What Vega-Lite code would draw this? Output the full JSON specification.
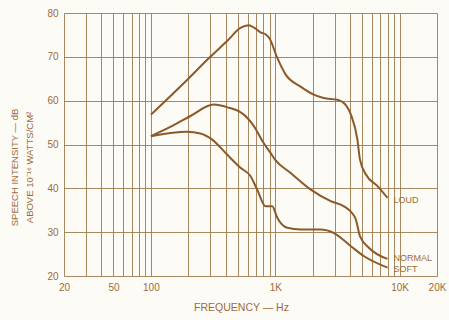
{
  "$schema": "https://vega.github.io/schema/vega-lite/v6.json",
  "width": 373,
  "height": 263,
  "autosize": "none",
  "padding": {"left": 64, "top": 13, "right": 12, "bottom": 44},
  "background": "#fdfbf6",
  "config": {
    "view": {"stroke": null},
    "font": "Liberation Sans",
    "axis": {
      "grid": true,
      "gridColor": "#9f7b50",
      "gridWidth": 1,
      "gridOpacity": 0.9,
      "domain": false,
      "ticks": false,
      "labelColor": "#9c6b3c",
      "titleColor": "#9c6b3c",
      "labelFont": "Liberation Sans",
      "titleFont": "Liberation Sans",
      "labelFontSize": 10,
      "titleFontSize": 10.5,
      "titleFontWeight": "normal"
    }
  },
  "datasets": {
    "curves": [
      {"curve": "LOUD", "freq": 100, "db": 56.8},
      {"curve": "LOUD", "freq": 200, "db": 65},
      {"curve": "LOUD", "freq": 300, "db": 70},
      {"curve": "LOUD", "freq": 410, "db": 73.6},
      {"curve": "LOUD", "freq": 525, "db": 76.6},
      {"curve": "LOUD", "freq": 610, "db": 77.2},
      {"curve": "LOUD", "freq": 680, "db": 76.6},
      {"curve": "LOUD", "freq": 760, "db": 75.6},
      {"curve": "LOUD", "freq": 840, "db": 75.1},
      {"curve": "LOUD", "freq": 900, "db": 74.2},
      {"curve": "LOUD", "freq": 1037, "db": 69.8},
      {"curve": "LOUD", "freq": 1210, "db": 66},
      {"curve": "LOUD", "freq": 1600, "db": 63.2},
      {"curve": "LOUD", "freq": 2000, "db": 61.5},
      {"curve": "LOUD", "freq": 2450, "db": 60.6},
      {"curve": "LOUD", "freq": 3160, "db": 60.2},
      {"curve": "LOUD", "freq": 3700, "db": 59},
      {"curve": "LOUD", "freq": 4060, "db": 56.8},
      {"curve": "LOUD", "freq": 4580, "db": 51.1},
      {"curve": "LOUD", "freq": 4800, "db": 46.6},
      {"curve": "LOUD", "freq": 5350, "db": 43.2},
      {"curve": "LOUD", "freq": 6650, "db": 40.5},
      {"curve": "LOUD", "freq": 8000, "db": 37.8},
      {"curve": "NORMAL", "freq": 100, "db": 51.9},
      {"curve": "NORMAL", "freq": 150, "db": 54.3},
      {"curve": "NORMAL", "freq": 208, "db": 56.5},
      {"curve": "NORMAL", "freq": 320, "db": 59.1},
      {"curve": "NORMAL", "freq": 423, "db": 58.4},
      {"curve": "NORMAL", "freq": 509, "db": 57.6},
      {"curve": "NORMAL", "freq": 600, "db": 56},
      {"curve": "NORMAL", "freq": 673, "db": 54.2},
      {"curve": "NORMAL", "freq": 800, "db": 50.5},
      {"curve": "NORMAL", "freq": 916, "db": 48.1},
      {"curve": "NORMAL", "freq": 1000, "db": 46.5},
      {"curve": "NORMAL", "freq": 1330, "db": 43.5},
      {"curve": "NORMAL", "freq": 1930, "db": 39.7},
      {"curve": "NORMAL", "freq": 2790, "db": 37.1},
      {"curve": "NORMAL", "freq": 3570, "db": 35.9},
      {"curve": "NORMAL", "freq": 4100, "db": 34.5},
      {"curve": "NORMAL", "freq": 4450, "db": 32.9},
      {"curve": "NORMAL", "freq": 4800, "db": 29.1},
      {"curve": "NORMAL", "freq": 5690, "db": 26.4},
      {"curve": "NORMAL", "freq": 8000, "db": 23.9},
      {"curve": "SOFT", "freq": 100, "db": 51.9},
      {"curve": "SOFT", "freq": 150, "db": 52.7},
      {"curve": "SOFT", "freq": 195, "db": 52.9},
      {"curve": "SOFT", "freq": 250, "db": 52.5},
      {"curve": "SOFT", "freq": 311, "db": 51.1},
      {"curve": "SOFT", "freq": 410, "db": 47.7},
      {"curve": "SOFT", "freq": 525, "db": 44.7},
      {"curve": "SOFT", "freq": 632, "db": 42.8},
      {"curve": "SOFT", "freq": 716, "db": 39.7},
      {"curve": "SOFT", "freq": 836, "db": 35.9},
      {"curve": "SOFT", "freq": 946, "db": 35.9},
      {"curve": "SOFT", "freq": 1038, "db": 33.3},
      {"curve": "SOFT", "freq": 1250, "db": 31},
      {"curve": "SOFT", "freq": 1600, "db": 30.6},
      {"curve": "SOFT", "freq": 2310, "db": 30.6},
      {"curve": "SOFT", "freq": 2970, "db": 29.8},
      {"curve": "SOFT", "freq": 4060, "db": 26.8},
      {"curve": "SOFT", "freq": 5190, "db": 24.5},
      {"curve": "SOFT", "freq": 8000, "db": 21.9}
    ],
    "labels": [
      {"curve": "LOUD", "freq": 8000, "db": 37.4},
      {"curve": "NORMAL", "freq": 8000, "db": 24.0},
      {"curve": "SOFT", "freq": 8000, "db": 21.6}
    ]
  },
  "layer": [
    {
      "data": {"name": "curves"},
      "mark": {"type": "line", "interpolate": "monotone", "color": "#8b5a2b", "strokeWidth": 2},
      "encoding": {
        "x": {
          "field": "freq", "type": "quantitative",
          "scale": {"type": "log", "domain": [20, 20000], "nice": false},
          "axis": {
            "title": "FREQUENCY — Hz",
            "values": [20, 30, 40, 50, 60, 70, 80, 90, 100, 200, 300, 400, 500, 600, 700, 800, 900, 1000, 2000, 3000, 4000, 5000, 6000, 7000, 8000, 9000, 10000, 20000],
            "labelExpr": "datum.value == 20 ? '20' : datum.value == 50 ? '50' : datum.value == 100 ? '100' : datum.value == 1000 ? '1K' : datum.value == 10000 ? '10K' : datum.value == 20000 ? '20K' : ''",
            "labelPadding": 6,
            "titlePadding": 10,
            "titleX": 177,
            "labelFlush": false
          }
        },
        "y": {
          "field": "db", "type": "quantitative",
          "scale": {"domain": [20, 80], "nice": false},
          "axis": {
            "title": ["SPEECH INTENSITY — dB", "ABOVE 10⁻¹⁶ WATTS/CM²"],
            "values": [20, 30, 40, 50, 60, 70, 80],
            "labelPadding": 6,
            "titlePadding": 12,
            "titleFontSize": 9.5,
            "titleLineHeight": 15,
            "titleY": 154
          }
        },
        "detail": {"field": "curve"}
      }
    },
    {
      "data": {"name": "labels"},
      "mark": {"type": "text", "align": "left", "baseline": "middle", "dx": 6, "color": "#9c6b3c", "fontSize": 9, "font": "Liberation Sans"},
      "encoding": {
        "x": {"field": "freq", "type": "quantitative"},
        "y": {"field": "db", "type": "quantitative"},
        "text": {"field": "curve"}
      }
    }
  ]
}
